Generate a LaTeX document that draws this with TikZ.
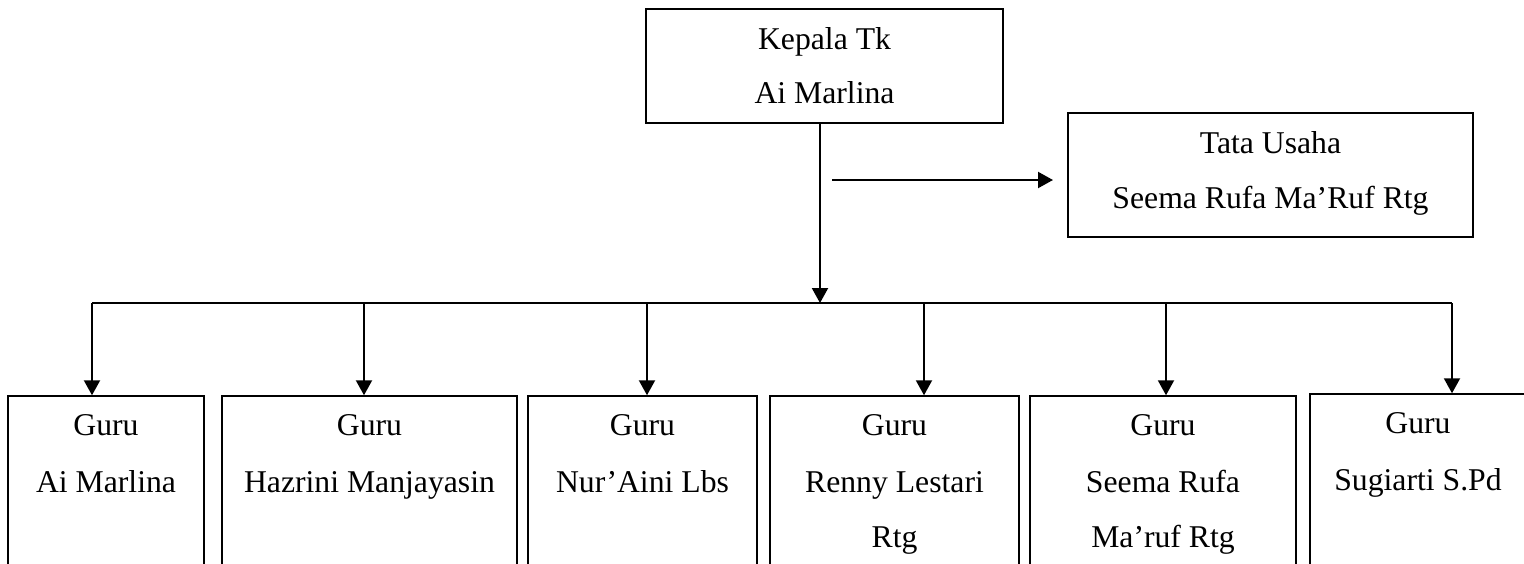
\documentclass[tikz,border=0pt]{standalone}
\usepackage{fontspec}
\setmainfont{Liberation Serif}
\usetikzlibrary{arrows.meta}
\begin{document}
\begin{tikzpicture}[x=1pt,y=-1pt,
  box/.style={draw=black,line width=1.5pt,rectangle,inner sep=0pt},
  txt/.style={anchor=base,inner sep=0pt,font=\fontsize{31.7}{38}\selectfont},
  conn/.style={draw=black,line width=2.1pt},
  arr/.style={conn,-{Triangle[width=16pt,length=15pt]}},
  bus/.style={draw=black,line width=1.6pt}]
\clip (0,0) rectangle (1524,563);
\fill[white] (0,0) rectangle (1524,563);
% top box
\node[box,minimum width=357pt,minimum height=114pt] (top) at (824.5,66) {};
\node[txt] (topa) at (824.5,49) {Kepala Tk};
\node[txt] (topb) at (824.5,103) {Ai Marlina};
% tata usaha
\node[box,minimum width=405pt,minimum height=124pt] (tu) at (1270.5,175) {};
\node[txt] (tua) at (1270.5,153) {Tata Usaha};
\node[txt] (tub) at (1270.5,208) {Seema Rufa Ma’Ruf Rtg};
% bottom boxes
\node[box,minimum width=196pt,minimum height=220pt] (g1) at (106,506) {};
\node[box,minimum width=295pt,minimum height=220pt] (g2) at (369.5,506) {};
\node[box,minimum width=229pt,minimum height=220pt] (g3) at (642.5,506) {};
\node[box,minimum width=249pt,minimum height=220pt] (g4) at (894.5,506) {};
\node[box,minimum width=266pt,minimum height=220pt] (g5) at (1163,506) {};
\node[box,minimum width=216pt,minimum height=224pt] (g6) at (1418,506) {};
\node[txt] (g1a) at (106,435) {Guru};
\node[txt] (g1b) at (106,492) {Ai Marlina};
\node[txt] (g2a) at (369.5,435) {Guru};
\node[txt] (g2b) at (369.5,492) {Hazrini Manjayasin};
\node[txt] (g3a) at (642.5,435) {Guru};
\node[txt] (g3b) at (642.5,492) {Nur’Aini Lbs};
\node[txt] (g4a) at (894.5,435) {Guru};
\node[txt] (g4b) at (894.5,492) {Renny Lestari};
\node[txt] (g4c) at (894.5,547) {Rtg};
\node[txt] (g5a) at (1163,435) {Guru};
\node[txt] (g5b) at (1163,492) {Seema Rufa};
\node[txt] (g5c) at (1163,547) {Ma’ruf Rtg};
\node[txt] (g6a) at (1418,433) {Guru};
\node[txt] (g6b) at (1418,490) {Sugiarti S.Pd};
% connectors
\coordinate (j) at (820,303);
\coordinate (hs) at (832,180);
\coordinate (he) at (1053,180);
\coordinate (b1) at (92,303);
\coordinate (b2) at (364,303);
\coordinate (b3) at (647,303);
\coordinate (b4) at (924,303);
\coordinate (b5) at (1166,303);
\coordinate (b6) at (1452,303);
\draw[arr] (j |- top.south) -- (j);
\draw[arr] (hs) -- (he);
\draw[bus] (b1) -- (b6);
\draw[arr] (b1) -- (b1 |- g1.north);
\draw[arr] (b2) -- (b2 |- g2.north);
\draw[arr] (b3) -- (b3 |- g3.north);
\draw[arr] (b4) -- (b4 |- g4.north);
\draw[arr] (b5) -- (b5 |- g5.north);
\draw[arr] (b6) -- (b6 |- g6.north);
\end{tikzpicture}
\end{document}
